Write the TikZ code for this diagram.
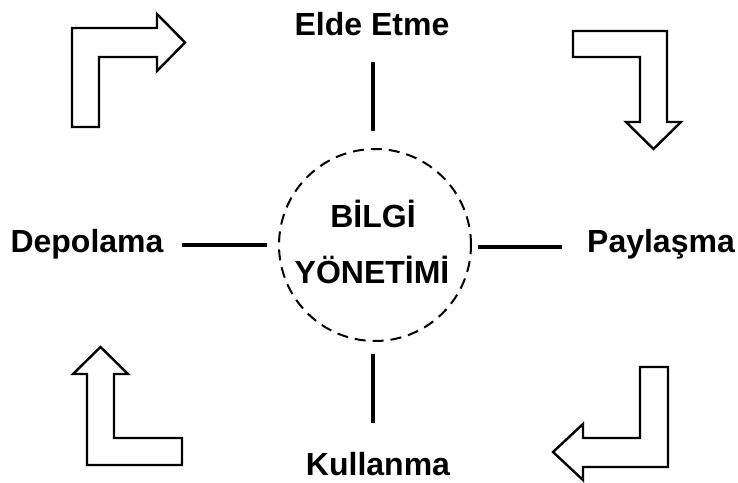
\documentclass[tikz,border=0pt]{standalone}
\usepackage{fontspec}
\setmainfont{Liberation Sans}
\begin{document}
\begin{tikzpicture}[x=0.5pt,y=-0.5pt,
etiket/.style={font=\fontsize{16}{19}\selectfont\bfseries,inner sep=0pt,anchor=base},
kol/.style={line width=2.1pt},
donus/.style={draw,line width=1.2pt,line join=miter}]
\useasboundingbox (0,0) rectangle (738,482);
% merkez
\draw[line width=1pt,dash pattern=on 5.5pt off 3.5pt] (375,245) circle[radius=48pt];
\node[etiket] (B1) at (373,227) {BİLGİ};
\node[etiket] (B2) at (372,283) {YÖNETİMİ};
% dort adim
\node[etiket] (E) at (372,35) {Elde Etme};
\node[etiket] (P) at (661,252) {Paylaşma};
\node[etiket] (K) at (378,475) {Kullanma};
\node[etiket] (D) at (87,252) {Depolama};
\coordinate (E1) at (373,62); \coordinate (E2) at (373,131);
\coordinate (P1) at (478,247); \coordinate (P2) at (562,247);
\coordinate (K1) at (373,354); \coordinate (K2) at (373,423);
\coordinate (D1) at (182,245); \coordinate (D2) at (267,245);
\draw[kol] (E1)--(E2);
\draw[kol] (P1)--(P2);
\draw[kol] (K1)--(K2);
\draw[kol] (D1)--(D2);
% donen oklar
\draw[donus] (72,127)--(72,28)--(157,28)--(157,14)--(185,42.5)--(157,71)--(157,57)--(99,57)--(99,127)--cycle;
\draw[donus] (573,31)--(667,31)--(667,122)--(681,122)--(653.5,149)--(626,122)--(640,122)--(640,57)--(573,57)--cycle;
\draw[donus] (668,367)--(668,467)--(583,467)--(583,480)--(553,452)--(583,424)--(583,438)--(640,438)--(640,367)--cycle;
\draw[donus] (182,465)--(87,465)--(87,374)--(73,374)--(100.5,347)--(128,374)--(114,374)--(114,438)--(182,438)--cycle;
\end{tikzpicture}
\end{document}
